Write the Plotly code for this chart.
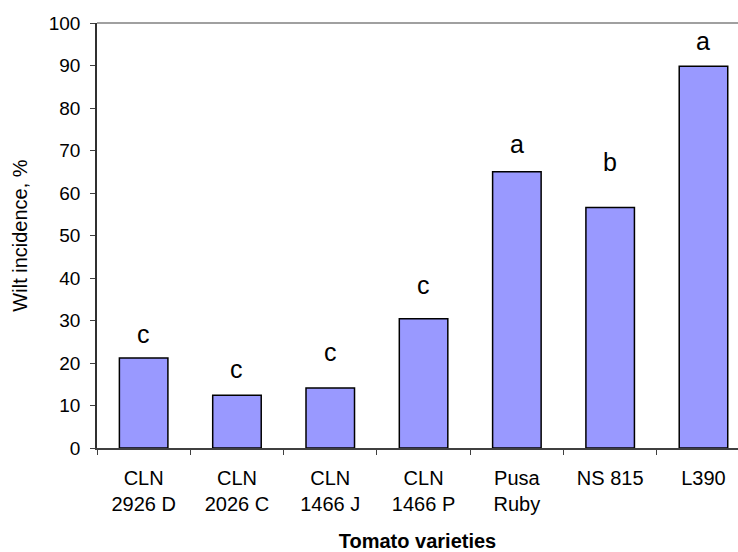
import plotly.graph_objects as go

# Wilt incidence per tomato variety
varieties = ["CLN<br>2926 D", "CLN<br>2026 C", "CLN<br>1466 J", "CLN<br>1466 P",
             "Pusa<br>Ruby", "NS 815", "L390"]
wilt_pct = [21.2, 12.4, 14.1, 30.4, 65.0, 56.6, 89.8]
groups = ["c", "c", "c", "c", "a", "b", "a"]

# vertical gap (px) between each bar top and its significance letter
letter_gap = [15, 17, 27, 25, 19, 36, 16]

FONT = "Arial, Liberation Sans, sans-serif"

fig = go.Figure(go.Bar(
    x=varieties,
    y=wilt_pct,
    width=0.52,
    marker=dict(color="#9999FF", line=dict(color="#000000", width=1.5)),
    hoverinfo="skip",
))

for v, val, g, gap in zip(varieties, wilt_pct, groups, letter_gap):
    fig.add_annotation(
        x=v, y=val, xref="x", yref="y",
        text=g, showarrow=False,
        yanchor="bottom", yshift=gap - 7,
        font=dict(family=FONT, size=25, color="#000000"),
    )

# plot-area top border
fig.add_shape(type="line", xref="x domain", yref="y domain",
              x0=0, x1=1, y0=1, y1=1,
              line=dict(color="#808080", width=1.5))

fig.update_layout(
    width=738, height=552,
    margin=dict(l=97, r=0, t=23, b=104),
    paper_bgcolor="white", plot_bgcolor="white",
    showlegend=False,
    font=dict(family=FONT, size=19, color="#000000"),
    xaxis=dict(
        type="category",
        range=[-0.5, 6.37],
        tickson="boundaries",
        ticks="outside", ticklen=5, tickwidth=1, tickcolor="#404040",
        showline=True, linecolor="#404040", linewidth=1.5,
        showgrid=False,
        ticklabelstandoff=11,
        tickfont=dict(family=FONT, size=20),
        title=dict(text="<b>Tomato varieties</b>",
                   font=dict(family=FONT, size=20), standoff=24),
    ),
    yaxis=dict(
        range=[0, 100], dtick=10, tick0=0,
        ticks="outside", ticklen=5, tickwidth=1, tickcolor="#404040",
        showline=True, linecolor="#303030", linewidth=1.5,
        showgrid=False, zeroline=False,
        ticklabelstandoff=6,
        tickfont=dict(family=FONT, size=19),
        title=dict(text="Wilt incidence, %",
                   font=dict(family=FONT, size=20), standoff=16),
    ),
)

fig.write_html("out.html")
